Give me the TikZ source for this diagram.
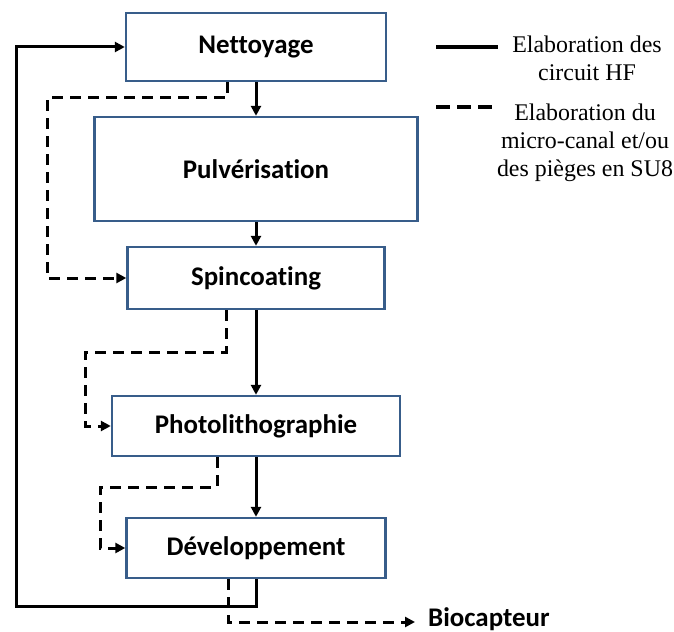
\documentclass[tikz,border=0pt]{standalone}
\usepackage{fontspec}
\setmainfont{Carlito}[Ligatures=NoCommon]
\newfontfamily\legendfont{Liberation Serif}
\usetikzlibrary{arrows.meta}
\definecolor{boxblue}{RGB}{56,93,138}

\begin{document}
\begin{tikzpicture}[x=1bp,y=-1bp,
    flow/.style={line width=3bp,-{Triangle[length=10bp,width=10bp]}},
    alt/.style={flow,dash pattern=on 11bp off 7bp},
    legtext/.style={anchor=north,align=center,inner sep=0,font=\legendfont\fontsize{24}{28}\selectfont}]
    \useasboundingbox (0,0) rectangle (674,632);

    \begin{scope}[every node/.style={draw=boxblue,line width=2.4bp,inner sep=0,font=\fontsize{27}{32}\selectfont\bfseries}]
        \node (net)[minimum width=260bp,minimum height=68bp] at (256,47) {Nettoyage};
        \node (pul)[minimum width=323bp,minimum height=104bp] at (256,169) {Pulvérisation};
        \node (spin)[minimum width=257bp,minimum height=62bp] at (256,278) {Spincoating};
        \node (photo)[minimum width=288bp,minimum height=60bp] at (256,426) {Photolithographie};
        \node (dev)[minimum width=259bp,minimum height=60bp] at (256,548) {Développement};
    \end{scope}
    \node (bio)[anchor=west,inner xsep=13bp,inner ysep=0,font=\fontsize{27}{32}\selectfont\bfseries] at (415,619) {Biocapteur};

    \coordinate (lp) at (16,606);
    \coordinate (d1) at (47,98);
    \coordinate (d2) at (85,352);
    \coordinate (d3) at (100,487);

    \begin{scope}
        \path [flow] (net) edge (pul);
        \path [flow] (pul) edge (spin);
        \path [flow] (spin) edge (photo);
        \path [flow] (photo) edge (dev);
        \draw [flow] (dev.south) |- (lp) |- (net.west);

        \draw [alt] ([xshift=-29bp]net.south) |- (d1) |- (spin.west);
        \draw [alt] ([xshift=-30bp]spin.south) |- (d2) |- (photo.west);
        \draw [alt] ([xshift=-39bp]photo.south) |- (d3) |- (dev.west);
        \draw [alt] ([xshift=-28bp]dev.south) |- ([yshift=-3bp]bio.west);
    \end{scope}

    % legend
    \coordinate (k1a) at (436,47);
    \coordinate (k1b) at (498,47);
    \coordinate (k2a) at (436,107);
    \coordinate (k2b) at (498,107);
    \draw [line width=3.5bp] (k1a) -- (k1b);
    \draw [line width=3.5bp,dash pattern=on 14bp off 7bp] (k2a) -- (k2b);
    \node (k1txt)[legtext] at (587,36) {Elaboration des\\circuit HF};
    \node (k2txt)[legtext] at (585,104) {Elaboration du\\micro-canal et/ou\\des pièges en SU8};
\end{tikzpicture}
\end{document}
